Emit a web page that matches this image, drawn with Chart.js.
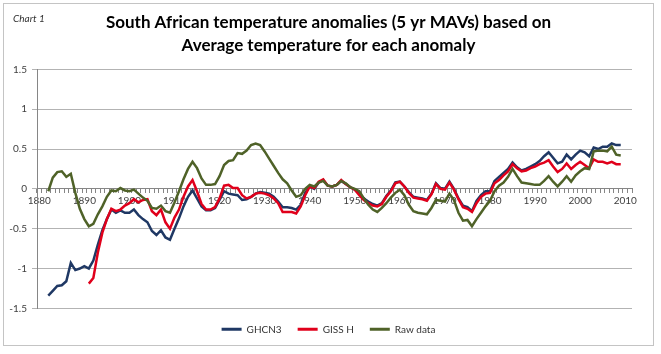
<!DOCTYPE html>
<html>
<head>
<meta charset="utf-8">
<script src="https://cdn.jsdelivr.net/npm/chart.js@4.4.1/dist/chart.umd.min.js"></script>
<style>
    body { margin: 0; background: #fff; }
    #box { position: absolute; left: 3px; top: 3px; width: 649px; height: 341px; border: 1px solid #c4c4c4; }
</style>
</head>
<body>
<div id="box"><canvas id="myChart" width="649" height="341"></canvas></div>
<script>
// years on the category axis
var years = [];
for (var y = 1880; y <= 2011; y++) years.push(y);

// values, one per year from 1880 (null = no value)
var ghcn3 = [null, null,
    -1.34, -1.28, -1.22, -1.21, -1.16, -0.93, -1.02, -1.00,
    -0.97, -1.00, -0.90, -0.70, -0.52, -0.38, -0.26, -0.30, -0.27, -0.30,
    -0.30, -0.26, -0.33, -0.38, -0.42, -0.53, -0.58, -0.52, -0.61, -0.64,
    -0.50, -0.37, -0.22, -0.10, -0.02, -0.12, -0.22, -0.27, -0.27, -0.24,
    -0.14, -0.03, -0.06, -0.07, -0.08, -0.14, -0.13, -0.10, -0.06, -0.04,
    -0.05, -0.06, -0.10, -0.16, -0.23, -0.23, -0.24, -0.26, -0.20, -0.05,
    0.03, 0.00, 0.08, 0.11, 0.04, 0.03, 0.05, 0.10, 0.06, 0.02,
    -0.01, -0.06, -0.12, -0.16, -0.19, -0.21, -0.18, -0.09, -0.02, 0.08,
    0.09, 0.03, -0.04, -0.10, -0.11, -0.12, -0.14, -0.06, 0.07, 0.01,
    0.00, 0.09, 0.00, -0.12, -0.21, -0.23, -0.28, -0.15, -0.08, -0.03,
    -0.03, 0.10, 0.15, 0.20, 0.25, 0.33, 0.27, 0.23, 0.25, 0.28,
    0.31, 0.35, 0.41, 0.46, 0.39, 0.32, 0.34, 0.43, 0.37, 0.43,
    0.48, 0.46, 0.41, 0.52, 0.50, 0.53, 0.53, 0.57, 0.55, 0.55];

var gissH = [null, null, null, null, null, null, null, null, null, null,
    null, -1.19, -1.12, -0.80, -0.55, -0.38, -0.25, -0.28, -0.26, -0.21,
    -0.18, -0.13, -0.17, -0.14, -0.13, -0.28, -0.33, -0.26, -0.42, -0.50,
    -0.36, -0.26, -0.10, 0.03, 0.11, -0.03, -0.19, -0.26, -0.26, -0.23,
    -0.12, 0.04, 0.05, 0.01, 0.01, -0.08, -0.12, -0.10, -0.06, -0.05,
    -0.06, -0.08, -0.12, -0.18, -0.29, -0.29, -0.29, -0.31, -0.22, -0.08,
    0.03, 0.01, 0.09, 0.12, 0.04, 0.03, 0.05, 0.11, 0.06, 0.02,
    -0.01, -0.08, -0.14, -0.18, -0.21, -0.22, -0.19, -0.10, -0.03, 0.07,
    0.09, 0.03, -0.05, -0.11, -0.12, -0.13, -0.15, -0.07, 0.06, 0.00,
    -0.01, 0.08, -0.01, -0.13, -0.23, -0.25, -0.29, -0.18, -0.10, -0.06,
    -0.05, 0.07, 0.11, 0.17, 0.22, 0.31, 0.26, 0.22, 0.23, 0.26,
    0.28, 0.31, 0.33, 0.36, 0.28, 0.21, 0.25, 0.32, 0.25, 0.30,
    0.34, 0.30, 0.26, 0.37, 0.34, 0.34, 0.32, 0.34, 0.31, 0.31];

var rawData = [null, null,
    -0.03, 0.14, 0.21, 0.22, 0.15, 0.19, -0.05, -0.25,
    -0.38, -0.47, -0.44, -0.32, -0.22, -0.10, -0.02, -0.03, 0.01, -0.02,
    -0.03, -0.01, -0.06, -0.11, -0.15, -0.24, -0.25, -0.21, -0.28, -0.30,
    -0.17, -0.03, 0.12, 0.25, 0.34, 0.26, 0.13, 0.05, 0.05, 0.06,
    0.16, 0.30, 0.35, 0.36, 0.45, 0.44, 0.48, 0.55, 0.57, 0.55,
    0.47, 0.38, 0.29, 0.20, 0.12, 0.07, -0.02, -0.10, -0.08, 0.00,
    0.05, 0.03, 0.08, 0.10, 0.04, 0.03, 0.05, 0.10, 0.07, 0.02,
    0.00, -0.03, -0.12, -0.20, -0.26, -0.29, -0.24, -0.18, -0.11, -0.05,
    -0.01, -0.08, -0.20, -0.28, -0.30, -0.31, -0.32, -0.24, -0.14, -0.15,
    -0.16, -0.06, -0.14, -0.30, -0.40, -0.39, -0.47, -0.38, -0.30, -0.22,
    -0.15, -0.03, 0.04, 0.08, 0.15, 0.25, 0.16, 0.08, 0.07, 0.06,
    0.05, 0.05, 0.10, 0.16, 0.09, 0.03, 0.09, 0.16, 0.09, 0.17,
    0.22, 0.26, 0.25, 0.47, 0.48, 0.48, 0.47, 0.53, 0.43, 0.42];

var chartTitle = ["South African temperature anomalies (5 yr MAVs) based on",
    "Average temperature for each anomaly"];

// small italic "Chart 1" in the top left corner
var cornerNote = {
    id: "cornerNote",
    afterDraw: function (chart) {
        var ctx = chart.ctx;
        ctx.save();
        ctx.font = "italic 10px Lato";
        ctx.fillStyle = "#333";
        ctx.textBaseline = "middle";
        ctx.fillText("Chart 1", 9, 15);
        ctx.restore();
    }
};

var ctx = document.getElementById("myChart").getContext("2d");
var chart = new Chart(ctx, {
    type: "line",
    data: {
        labels: years,
        datasets: [
            { label: "GHCN3", data: ghcn3, borderColor: "#1f3864", backgroundColor: "#1f3864", order: 3 },
            { label: "GISS H", data: gissH, borderColor: "#e0001b", backgroundColor: "#e0001b", order: 2 },
            { label: "Raw data", data: rawData, borderColor: "#4f6228", backgroundColor: "#4f6228", order: 1 }
        ]
    },
    options: {
        responsive: false,
        animation: false,
        layout: { padding: { left: 0, right: 0, top: 0, bottom: 0.7 } },
        elements: {
            line: { borderWidth: 2.5, tension: 0 },
            point: { radius: 0 }
        },
        scales: {
            x: {
                type: "category",
                position: { y: 0 },
                offset: true,
                grid: { drawOnChartArea: false, drawTicks: true, tickLength: 4, color: "#868686", offset: true },
                border: { color: "#868686", width: 1 },
                ticks: {
                    autoSkip: false, maxRotation: 0, padding: 2,
                    color: "#404040", font: { family: "Lato", size: 10 },
                    callback: function (val, i) {
                        var yr = years[i];
                        return yr % 10 === 0 ? String(yr) : "";
                    }
                }
            },
            y: {
                min: -1.5, max: 1.5,
                ticks: {
                    stepSize: 0.5, padding: 5, color: "#404040", font: { family: "Lato", size: 10 },
                    callback: function (v) { return String(Math.round(v * 10) / 10); }
                },
                grid: { color: "#b3b3b3", tickLength: 5 },
                border: { color: "#868686", width: 1 },
                afterFit: function (scale) { scale.width = 33; }
            },
            // empty right margin so that title and legend stay centred on the box
            yRight: {
                position: "right", min: -1.5, max: 1.5,
                grid: { display: false }, border: { display: false }, ticks: { display: false },
                afterFit: function (scale) { scale.width = 21; }
            }
        },
        plugins: {
            title: {
                display: true, text: chartTitle, color: "#000",
                font: { family: "Lato", size: 17, weight: "bold", lineHeight: 1.365 },
                padding: { top: 7, bottom: 12 }
            },
            legend: {
                position: "bottom",
                labels: {
                    boxWidth: 20, boxHeight: 3, padding: 16, color: "#333",
                    font: { family: "Lato", size: 10 },
                    sort: function (a, b) { return a.datasetIndex - b.datasetIndex; },
                    generateLabels: function (c) {
                        var items = Chart.defaults.plugins.legend.labels.generateLabels(c);
                        items.forEach(function (it) { it.lineWidth = 0; });
                        return items;
                    }
                }
            },
            tooltip: { enabled: false }
        }
    },
    plugins: [cornerNote]
});
</script>
</body>
</html>
